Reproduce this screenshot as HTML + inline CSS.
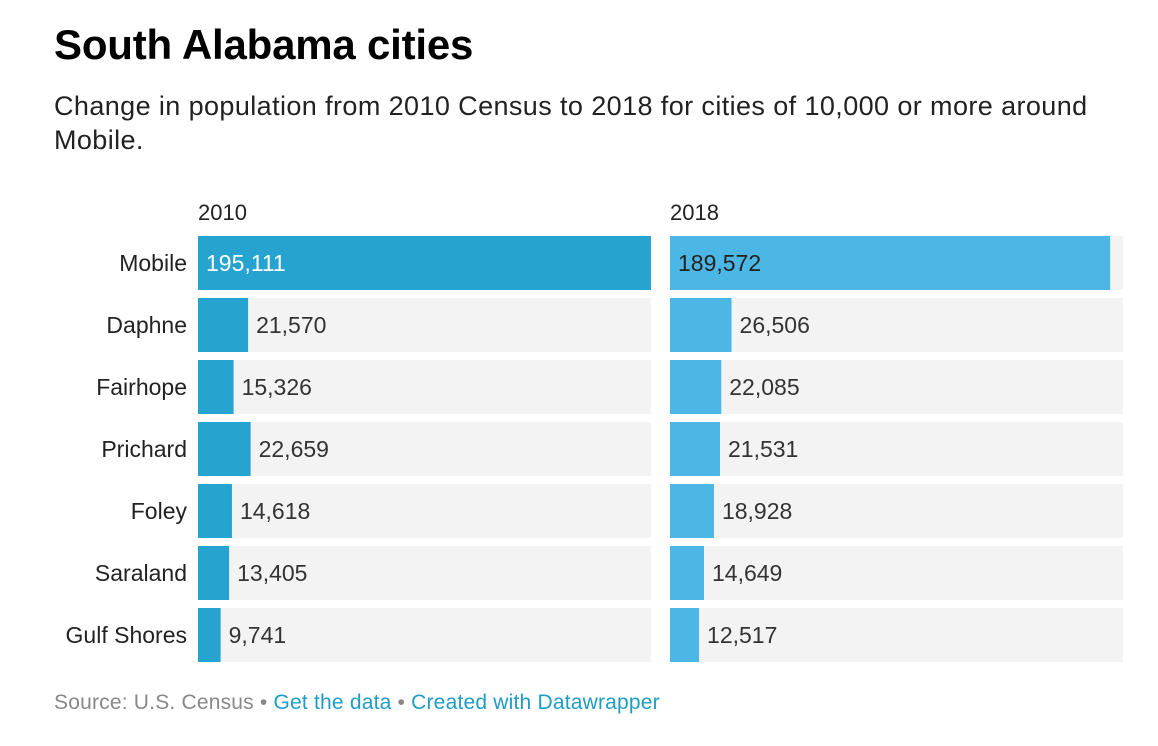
<!DOCTYPE html>
<html><head><meta charset="utf-8"><style>
body{margin:0;background:#fff;font-family:"Liberation Sans",Arial,sans-serif;width:1158px;height:746px;overflow:hidden;position:relative}
.t{position:absolute;left:54px;top:21px;font-size:42px;font-weight:bold;color:#000;letter-spacing:-0.2px}
.s{position:absolute;left:54px;top:89px;font-size:27px;color:#222;line-height:34px;width:1060px;letter-spacing:0.4px}
.f{position:absolute;left:54px;top:691px;font-size:21px;color:#888;letter-spacing:0.2px}
.f a{color:#1f9cc8;text-decoration:none}
</style></head><body>
<div class="t">South Alabama cities</div>
<div class="s">Change in population from 2010 Census to 2018 for cities of 10,000 or more around Mobile.</div>
<svg id="c" width="1158" height="746" style="position:absolute;left:0;top:0"></svg>
<div class="f">Source: U.S. Census • <a>Get the data</a> • <a>Created with Datawrapper</a></div>
<script>
const cities=["Mobile","Daphne","Fairhope","Prichard","Foley","Saraland","Gulf Shores"];
const pop2010=[195111,21570,15326,22659,14618,13405,9741];
const pop2018=[189572,26506,22085,21531,18928,14649,12517];
const panels=["2010","2018"];
const svg=document.getElementById('c');const NS="http://www.w3.org/2000/svg";
function mk(t,a){const e=document.createElementNS(NS,t);for(const k in a)e.setAttribute(k,a[k]);svg.appendChild(e);return e;}
const maxV=195111,panelW=453;
const x=(v)=>v/maxV*panelW;
const y=(i)=>236+i*62;
const fmt=v=>v.toLocaleString('en-US');
const px=[198,670],cols=["#26a4cf","#4cb6e4"];
const data=[pop2010,pop2018];
cities.forEach((c,i)=>{
 const l=mk('text',{x:187,y:y(i)+35,'text-anchor':'end','font-size':23,fill:'#222'});
 
 
 l.textContent=c;
});
panels.forEach((p,k)=>{
 const h=mk('text',{x:px[k],y:220,'font-size':22,fill:'#222'});
 
 
 h.textContent=p;
 data[k].forEach((v,i)=>{
  const bg=mk('rect',{x:px[k],y:y(i),width:453,height:54,fill:'#f3f3f3'});
  
  
  const w=x(v);
  const b=mk('rect',{x:px[k],y:y(i),width:w,height:54,fill:cols[k]});
  
  
  const inside=w>200;
  const t=mk('text',{x:inside?px[k]+8:px[k]+w+8,y:y(i)+35,'font-size':23,fill:inside?(k==0?'#fff':'#222'):'#333'});
  
  
  t.textContent=fmt(v);
 });
});
</script>
</body></html>
